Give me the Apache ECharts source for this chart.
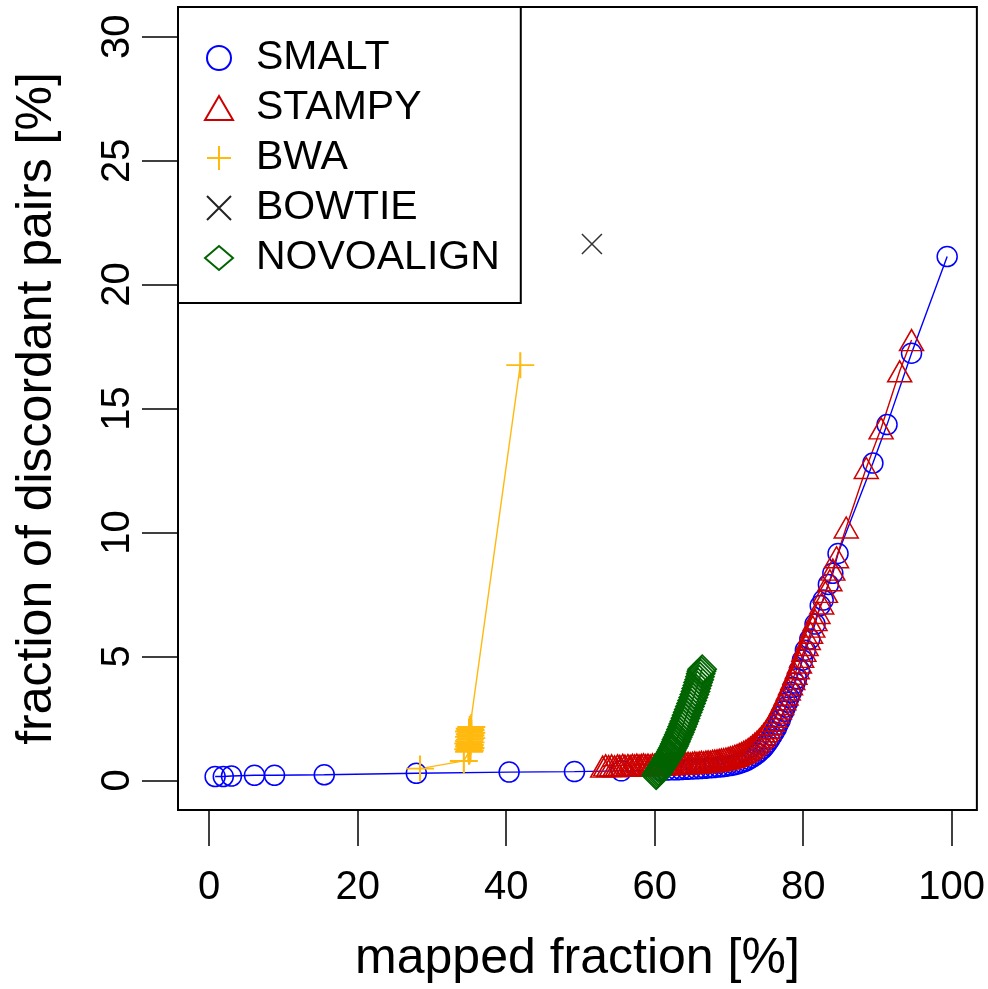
<!DOCTYPE html>
<html>
<head>
<meta charset="utf-8">
<script src="https://cdn.jsdelivr.net/npm/echarts@6/dist/echarts.min.js"></script>
<style>
  html, body { margin: 0; padding: 0; background: #fff; }
  #chart { width: 988px; height: 989px; }
</style>
</head>
<body>
<div id="chart"></div>
<script>
// tick labels
const xTicks = [0, 20, 40, 60, 80, 100];
const yTicks = [0, 5, 10, 15, 20, 25, 30];

// [mapped fraction %, discordant pairs %]
const smalt = [
  [0.8, 0.15], [1.9, 0.15], [3.0, 0.17], [6.1, 0.2], [8.8, 0.2], [15.5, 0.22],
  [27.9, 0.28], [40.4, 0.33], [49.2, 0.35], [55.5, 0.38], [60.8, 0.4], [61.6, 0.41],
  [62.3, 0.42], [63.0, 0.42], [63.6, 0.43], [64.3, 0.44], [64.9, 0.45], [65.6, 0.46],
  [66.2, 0.47], [66.8, 0.48], [67.4, 0.5], [68.0, 0.51], [68.6, 0.53], [69.2, 0.55],
  [69.7, 0.57], [70.3, 0.6], [70.8, 0.63], [71.3, 0.67], [71.8, 0.72], [72.3, 0.78],
  [72.7, 0.85], [73.1, 0.92], [73.5, 1.0], [73.9, 1.09], [74.2, 1.18], [74.6, 1.29],
  [74.9, 1.4], [75.2, 1.52], [75.5, 1.65], [75.8, 1.8], [76.1, 1.95], [76.4, 2.1],
  [76.6, 2.25], [76.9, 2.42], [77.1, 2.6], [77.4, 2.78], [77.6, 2.95], [77.9, 3.15],
  [78.1, 3.35], [78.4, 3.55], [78.6, 3.75], [78.9, 3.92], [79.1, 4.1], [79.5, 4.45],
  [79.9, 4.85], [80.3, 5.25], [80.9, 5.7], [81.6, 6.3], [82.3, 7.05], [82.7, 7.27],
  [83.4, 7.9], [84.0, 8.35], [84.7, 9.15], [89.4, 12.8], [91.3, 14.35], [94.6, 17.23],
  [99.4, 21.13]
];

const stampy = [
  [53.0, 0.55], [53.4, 0.6], [53.8, 0.57], [54.2, 0.6], [54.6, 0.56], [55.0, 0.6],
  [55.3, 0.58], [55.7, 0.62], [56.0, 0.59], [56.4, 0.61], [56.7, 0.58], [57.0, 0.62],
  [57.3, 0.6], [57.6, 0.63], [57.9, 0.6], [58.2, 0.62], [58.5, 0.64], [58.8, 0.61],
  [59.1, 0.63], [59.4, 0.6], [59.7, 0.64], [60.0, 0.62], [60.3, 0.65], [60.6, 0.62],
  [60.9, 0.66], [61.2, 0.63], [61.5, 0.65], [61.8, 0.67], [62.1, 0.64], [62.4, 0.66],
  [62.7, 0.68], [63.0, 0.65], [63.3, 0.67], [63.6, 0.69], [63.9, 0.66], [64.2, 0.68],
  [64.5, 0.7], [64.8, 0.68], [65.1, 0.7], [65.4, 0.72], [65.7, 0.7], [66.0, 0.72],
  [66.3, 0.74], [66.6, 0.72], [66.9, 0.75], [67.2, 0.76], [67.5, 0.75], [67.8, 0.78],
  [68.1, 0.79], [68.4, 0.8], [68.7, 0.82], [69.0, 0.84], [69.3, 0.85], [69.6, 0.88],
  [69.9, 0.9], [70.2, 0.93], [70.5, 0.95], [70.8, 0.99], [71.1, 1.02], [71.4, 1.06],
  [71.7, 1.1], [72.0, 1.15], [72.3, 1.2], [72.6, 1.26], [72.9, 1.32], [73.2, 1.4],
  [73.5, 1.48], [73.8, 1.56], [74.1, 1.65], [74.4, 1.75], [74.7, 1.86], [75.0, 1.98],
  [75.3, 2.1], [75.6, 2.25], [75.9, 2.4], [76.2, 2.56], [76.5, 2.73], [76.8, 2.9],
  [77.1, 3.08], [77.4, 3.27], [77.7, 3.46], [78.0, 3.66], [78.3, 3.87], [78.6, 4.08],
  [78.9, 4.3], [79.2, 4.52], [79.5, 4.75], [79.8, 4.98], [80.1, 5.22], [80.4, 5.46],
  [80.7, 5.7], [81.0, 5.95], [81.3, 6.2], [81.6, 6.46], [82.0, 6.75], [82.5, 7.13],
  [83.0, 7.6], [83.6, 8.07], [84.0, 8.5], [84.5, 9.0], [85.8, 10.2], [88.5, 12.6],
  [90.5, 14.2], [93.0, 16.5], [94.6, 17.76]
];

const bwa = [
  [28.4, 0.47], [34.3, 0.78], [35.0, 1.15], [35.1, 1.2], [34.9, 1.25], [35.2, 1.3],
  [35.0, 1.36], [35.1, 1.42], [34.9, 1.48], [35.2, 1.53], [35.0, 1.58], [35.1, 1.64],
  [35.3, 1.7], [35.0, 1.75], [35.2, 1.8], [35.1, 1.86], [35.3, 1.92], [35.0, 1.97],
  [35.2, 2.03], [35.1, 2.08], [35.3, 2.15], [41.9, 16.75]
];

const bowtie = [[51.55, 21.64]];

const novoalign = [
  [60.2, 0.2], [60.3, 0.25], [60.45, 0.3], [60.55, 0.36], [60.7, 0.42], [60.8, 0.48],
  [60.95, 0.54], [61.05, 0.6], [61.2, 0.66], [61.3, 0.72], [61.45, 0.78], [61.55, 0.84],
  [61.7, 0.9], [61.8, 0.96], [61.95, 1.02], [62.05, 1.08], [62.2, 1.15], [62.3, 1.22],
  [62.45, 1.3], [62.6, 1.38], [62.7, 1.46], [62.85, 1.55], [62.95, 1.64], [63.1, 1.74],
  [63.25, 1.84], [63.4, 1.94], [63.55, 2.05], [63.7, 2.16], [63.85, 2.27], [64.0, 2.38],
  [64.15, 2.5], [64.3, 2.62], [64.45, 2.74], [64.6, 2.86], [64.75, 2.98], [64.9, 3.1],
  [65.05, 3.22], [65.2, 3.34], [65.35, 3.46], [65.5, 3.58], [65.6, 3.7], [65.75, 3.82],
  [65.85, 3.94], [66.0, 4.06], [66.1, 4.18], [66.2, 4.3], [66.3, 4.4], [66.4, 4.48]
];

const FONT = 'Liberation Sans, Arial, Helvetica, sans-serif';
const plusPath = 'path://M10,0L10,20M0,10L20,10';
const crossPath = 'path://M0,0L20,20M20,0L0,20';

const chart = echarts.init(document.getElementById('chart'));

function mk(name, data, color, symbol, size, bw) {
  return {
    name: name,
    type: 'line',
    data: data,
    symbol: symbol,
    symbolSize: size,
    clip: true,
    lineStyle: { color: color, width: 1.4 },
    itemStyle: { color: 'transparent', borderColor: color, borderWidth: bw || 1.5 },
    emphasis: { disabled: true }
  };
}

const option = {
  animation: false,
  backgroundColor: '#fff',
  grid: {
    left: 178, right: 11, top: 7, bottom: 179,
    show: true, borderColor: '#000', borderWidth: 2
  },
  legend: {
    left: 178, top: 7,
    orient: 'vertical',
    backgroundColor: '#fff',
    borderColor: '#000', borderWidth: 2,
    padding: [26, 21, 20, 26],
    itemGap: 0,
    itemWidth: 28, itemHeight: 24,
    textStyle: { fontSize: 41, fontFamily: FONT, color: '#000', lineHeight: 50, padding: [0, 0, 0, 18] },
    data: [
      { name: 'SMALT', icon: 'circle', itemStyle: { color: 'transparent', borderColor: '#0000ff', borderWidth: 2 } },
      { name: 'STAMPY', icon: 'triangle', itemStyle: { color: 'transparent', borderColor: '#cd0000', borderWidth: 2 } },
      { name: 'BWA', icon: plusPath, itemStyle: { color: 'transparent', borderColor: '#ffb90f', borderWidth: 2 } },
      { name: 'BOWTIE', icon: crossPath, itemStyle: { color: 'transparent', borderColor: '#222', borderWidth: 2 } },
      { name: 'NOVOALIGN', icon: 'diamond', itemStyle: { color: 'transparent', borderColor: '#006400', borderWidth: 2 } }
    ]
  },
  xAxis: {
    type: 'value', min: -4.2, max: 103.4,
    splitLine: { show: false },
    axisLine: { show: false, onZero: false },
    axisTick: { show: true, inside: false, length: 36, customValues: xTicks, lineStyle: { color: '#000', width: 1.5 } },
    axisLabel: { customValues: xTicks, fontSize: 40, margin: 58, color: '#000', fontFamily: FONT },
    name: 'mapped fraction [%]',
    nameLocation: 'middle',
    nameGap: 124,
    nameTextStyle: { fontSize: 50, fontFamily: FONT, color: '#000' }
  },
  yAxis: {
    type: 'value', min: -1.2, max: 31.2,
    splitLine: { show: false },
    axisLine: { show: false, onZero: false },
    axisTick: { show: true, inside: false, length: 36, customValues: yTicks, lineStyle: { color: '#000', width: 1.5 } },
    axisLabel: { customValues: yTicks, fontSize: 40, margin: 40, rotate: 90, color: '#000', fontFamily: FONT },
    name: 'fraction of discordant pairs [%]',
    nameLocation: 'middle',
    nameGap: 116,
    nameTextStyle: { fontSize: 50, fontFamily: FONT, color: '#000' }
  },
  series: [
    mk('SMALT', smalt, '#0000ff', 'circle', 20),
    mk('STAMPY', stampy, '#cd0000', 'triangle', [24, 21]),
    mk('BWA', bwa, '#ffb90f', plusPath, [28, 26], 2),
    mk('BOWTIE', bowtie, '#333333', crossPath, 20),
    mk('NOVOALIGN', novoalign, '#006400', 'diamond', [28, 28], 1.8)
  ]
};

chart.setOption(option);
</script>
</body>
</html>
